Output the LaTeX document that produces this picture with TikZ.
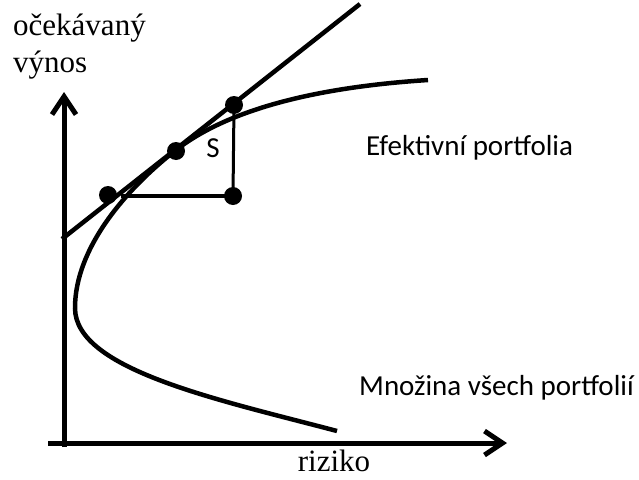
\documentclass[tikz,border=0pt]{standalone}
\usepackage{fontspec}
\setmainfont{Liberation Serif}
\newfontfamily\labelfont{Carlito}
\usetikzlibrary{arrows.meta}
\begin{document}
\begin{tikzpicture}[x=1pt,y=-1pt,
  axisline/.style={line width=5pt, -{Straight Barb[length=18pt,width=24pt]}},
  thick curve/.style={line width=4.5pt},
  dot/.style={circle, fill=black, inner sep=0pt, minimum size=18pt},
  serif/.style={font=\fontsize{31}{37}\selectfont, inner sep=0pt},
  sans/.style={font=\labelfont\fontsize{29}{34}\selectfont, inner sep=0pt}]
\useasboundingbox (0,0) rectangle (639,479);

% axes
\coordinate (yb) at (64,447);
\coordinate (yt) at (64,92);
\coordinate (xl) at (48,443);
\coordinate (xr) at (507,443);
\draw[axisline] (yb) -- (yt);
\draw[axisline] (xl) -- (xr);

% axis labels
\node[serif, anchor=base west] (ylab1) at (13,35) {očekávaný};
\node[serif, anchor=base west] (ylab2) at (13,72) {výnos};
\node[serif, anchor=base] (xlab) at (334,471) {riziko};

% set of all portfolios (bullet curve)
\draw[thick curve] (337,431) .. controls (220,400) and (75,370) .. (75,308)
  .. controls (75,248) and (126,189) .. (176,150)
  .. controls (230,108) and (320,87) .. (428,80);

% tangent line
\coordinate (t0) at (62,239);
\coordinate (t1) at (360,4);
\draw[line width=4.5pt] (t0) -- (t1);

% points
\node[dot] (d1) at (108,195) {};
\node[dot] (d2) at (176,151) {};
\node[dot] (d3) at (234,105) {};
\node[dot] (d4) at (233,196) {};
\coordinate (h0) at (121,196);

% slope triangle
\draw[line width=4.5pt] (h0) -- (d4.center);
\draw[line width=3pt] (d4.center) -- (d3.center);
\node[sans] (slab) at (213,148) {S};

% labels
\node[sans, anchor=base west] (eff) at (366,155) {Efektivní portfolia};
\node[sans, anchor=base west] (all) at (359,395) {Množina všech portfolií};
\end{tikzpicture}
\end{document}
